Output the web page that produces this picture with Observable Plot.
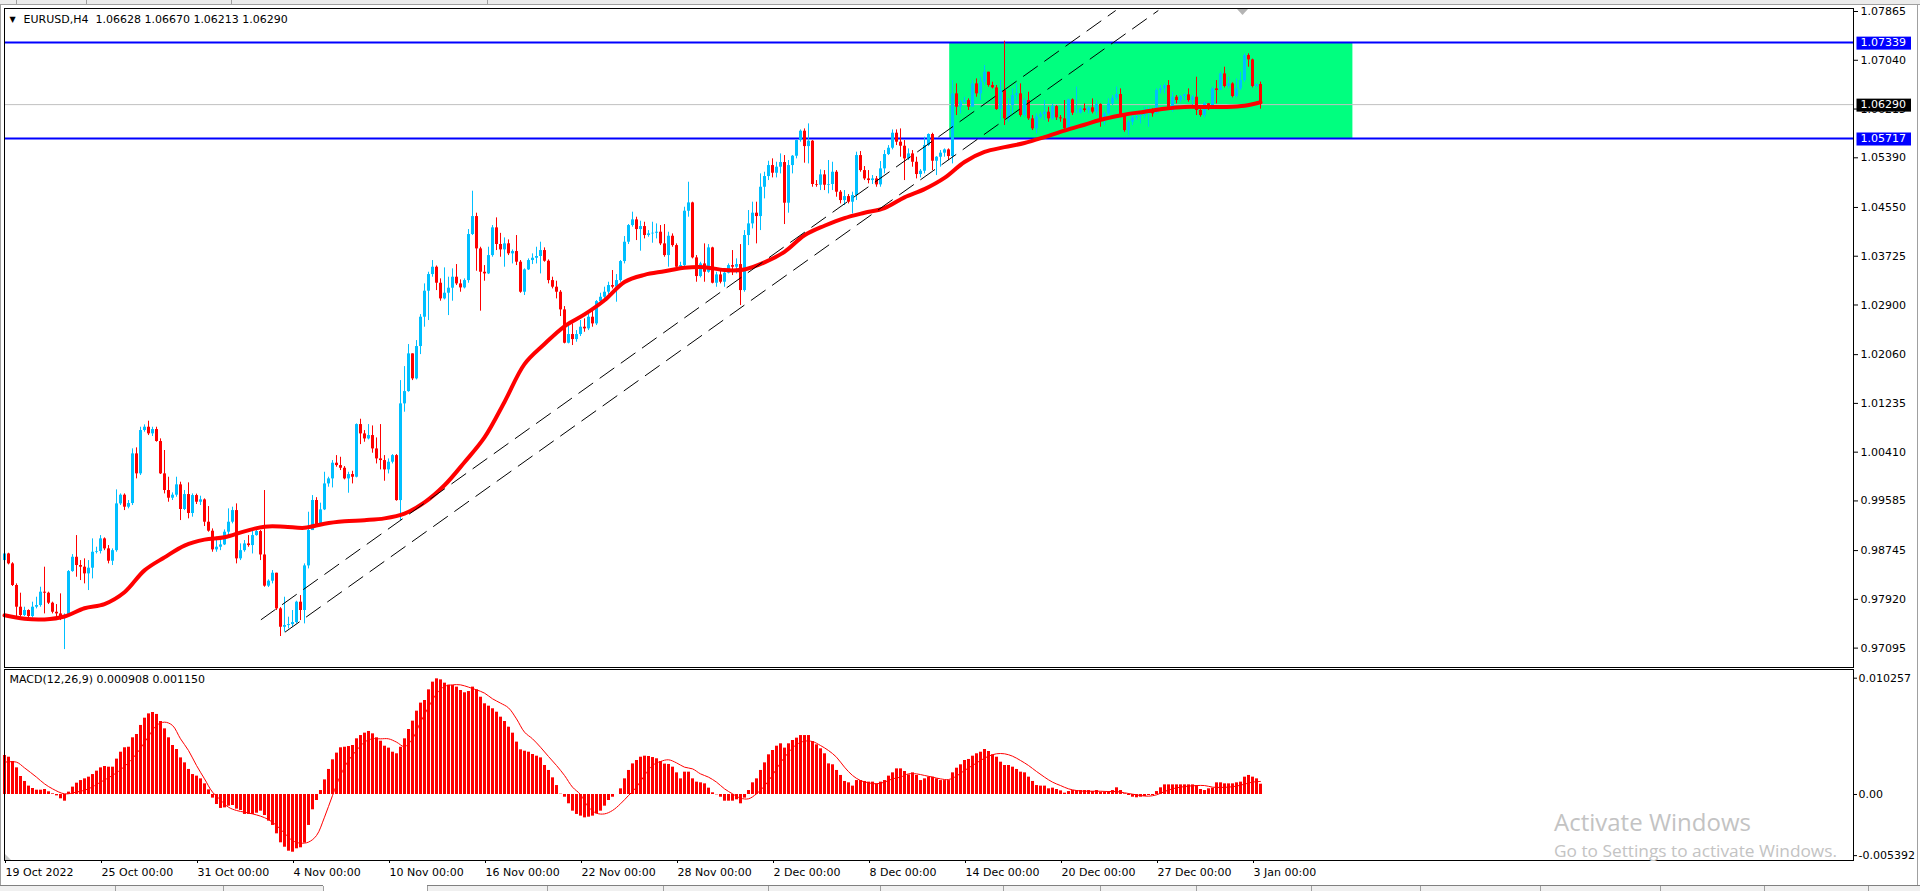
<!DOCTYPE html>
<html><head><meta charset="utf-8">
<script src="https://cdn.jsdelivr.net/npm/d3@7"></script>
<script src="https://cdn.jsdelivr.net/npm/@observablehq/plot@0.6"></script>
<style>
html,body{margin:0;padding:0;background:#fff;overflow:hidden;}
#wrap{position:relative;width:1920px;height:891px;overflow:hidden;background:#fff;}
#wrap svg{position:absolute;left:0;}
</style></head><body><div id="wrap"></div>
<script>
// ---------- DATA (EURUSD H4, 19 Oct 2022 00:00 ... 3 Jan 2023 08:00, bar index 0..314) ----------
const firstOpen = 0.98576;
const close = [
0.98688,0.98520,0.98154,0.97787,0.97646,0.97731,0.97629,0.97787,0.97815,0.98041,
0.98024,0.97855,0.97702,0.97674,0.97618,0.97646,0.98390,0.98632,0.98492,0.98464,
0.98351,0.98447,0.98717,0.98729,0.98943,0.98774,0.98565,0.98744,0.99535,0.99682,
0.99479,0.99541,1.00381,1.00043,1.00776,1.00832,1.00720,1.00793,1.00590,1.00043,
0.99761,0.99631,0.99682,0.99857,0.99440,0.99693,0.99372,0.99676,0.99563,0.99603,
0.99225,0.99073,0.98757,0.98802,0.98841,0.99056,0.99225,0.99422,0.98605,0.98744,
0.98858,0.98830,0.98999,0.99067,0.98671,0.98143,0.98227,0.98362,0.97759,0.97448,
0.97477,0.97493,0.97527,0.97872,0.97731,0.98486,0.99084,0.99592,0.99186,0.99434,
0.99873,0.99958,1.00223,1.00183,1.00138,0.99958,1.00031,0.99986,1.00877,1.00719,
1.00634,1.00691,1.00465,1.00296,1.00268,1.00110,1.00240,1.00352,0.99591,1.01227,
1.01435,1.02073,1.01650,1.02197,1.02693,1.03133,1.03415,1.03539,1.03268,1.03003,
1.03099,1.03184,1.03370,1.03257,1.03189,1.03313,1.04092,1.04396,1.03849,1.03454,
1.03426,1.03736,1.04205,1.03923,1.03832,1.03934,1.03765,1.03804,1.03624,1.03116,
1.03494,1.03652,1.03691,1.03720,1.03821,1.03640,1.03313,1.03201,1.03116,1.02817,
1.02253,1.02400,1.02315,1.02400,1.02524,1.02496,1.02693,1.02580,1.02958,1.03031,
1.03116,1.03229,1.03201,1.03313,1.03635,1.03962,1.04244,1.04340,1.04176,1.04227,
1.04075,1.04103,1.04114,1.04131,1.03934,1.03736,1.04063,1.03905,1.03539,1.03567,
1.04486,1.04627,1.03697,1.03381,1.03595,1.03454,1.03866,1.03268,1.03409,1.03285,
1.03437,1.03567,1.03539,1.03584,1.03144,1.04075,1.04272,1.04453,1.04396,1.04892,
1.05073,1.05259,1.05129,1.05231,1.05310,1.04622,1.05259,1.05417,1.05682,1.05840,
1.05580,1.05671,1.04938,1.04926,1.05101,1.04926,1.04938,1.05146,1.04808,1.04667,
1.04734,1.04639,1.04751,1.05428,1.05174,1.05033,1.05005,1.05033,1.04932,1.05203,
1.05445,1.05552,1.05806,1.05654,1.05586,1.05372,1.05456,1.05315,1.05107,1.05163,
1.05597,1.05784,1.05332,1.05400,1.05468,1.05524,1.05411,1.06472,1.06246,1.06331,
1.06359,1.06246,1.06641,1.06472,1.06669,1.06838,1.06613,1.06573,1.06207,1.06528,
1.06049,1.06274,1.06444,1.06472,1.06105,1.06359,1.06049,1.05880,1.06077,1.06120,
1.06162,1.06049,1.06257,1.06066,1.06049,1.05880,1.06370,1.06145,1.06145,1.06218,
1.06190,1.06235,1.06162,1.06291,1.06049,1.06133,1.06303,1.06398,1.06461,1.06105,
1.05851,1.05992,1.06066,1.06088,1.06105,1.06178,1.06190,1.06133,1.06528,1.06556,
1.06613,1.06201,1.06415,1.06359,1.06427,1.06455,1.06359,1.06415,1.06190,1.06105,
1.06303,1.06257,1.06556,1.06528,1.06810,1.06596,1.06641,1.06427,1.06556,1.06697,
1.07120,1.07047,1.06596,1.06630,1.06290];
const high = [
0.98744,0.98700,0.98540,0.98182,0.98024,0.97787,0.97742,0.97872,0.97956,0.98125,
0.98464,0.98041,0.97872,0.97832,0.98013,0.97674,0.98407,0.98677,0.98999,0.98576,
0.98605,0.98576,0.98943,0.98802,0.98999,0.98960,0.98830,0.98774,0.99772,0.99704,
0.99704,0.99592,1.00466,1.00483,1.00832,1.00872,1.00934,1.00832,1.00832,1.00635,
1.00438,0.99986,0.99721,0.99986,0.99902,0.99761,0.99891,0.99704,0.99700,0.99665,
0.99620,0.99490,0.99112,0.98971,0.98915,0.99095,0.99451,0.99479,0.99535,0.98858,
0.98915,0.98999,0.99084,0.99084,0.99084,0.99761,0.98249,0.98407,0.98362,0.97780,
0.97956,0.97618,0.97731,0.97888,0.97984,0.98520,0.99394,0.99676,0.99640,0.99547,
1.00070,0.99986,1.00268,1.00352,1.00324,1.00166,1.00070,1.00087,1.00888,1.00967,
1.00775,1.00877,1.00854,1.00651,1.00877,1.00352,1.00296,1.00369,1.00369,1.01621,
1.01858,1.02231,1.02073,1.02298,1.02738,1.03257,1.03454,1.03652,1.03560,1.03342,
1.03528,1.03370,1.03511,1.03584,1.03325,1.03342,1.04176,1.04825,1.04453,1.03877,
1.03567,1.03877,1.04244,1.04374,1.04112,1.04035,1.04001,1.03832,1.04075,1.03652,
1.03511,1.03680,1.03765,1.03877,1.03962,1.03866,1.03663,1.03370,1.03302,1.03144,
1.02873,1.02552,1.02580,1.02467,1.02637,1.02665,1.02749,1.02817,1.02975,1.03099,
1.03201,1.03285,1.03483,1.03415,1.03652,1.04058,1.04261,1.04470,1.04385,1.04317,
1.04300,1.04159,1.04300,1.04272,1.04244,1.04261,1.04131,1.04103,1.03934,1.03623,
1.04554,1.04977,1.04639,1.03736,1.03623,1.03934,1.03922,1.03877,1.03454,1.03482,
1.03511,1.03595,1.03821,1.03680,1.03922,1.04159,1.04498,1.04639,1.04639,1.05118,
1.05146,1.05332,1.05372,1.05315,1.05456,1.05428,1.05344,1.05428,1.05693,1.05862,
1.05879,1.05964,1.05682,1.05005,1.05186,1.05174,1.05344,1.05315,1.05174,1.04836,
1.04836,1.04768,1.04808,1.05485,1.05496,1.05242,1.05174,1.05090,1.05073,1.05327,
1.05513,1.05597,1.05862,1.05862,1.05879,1.05682,1.05541,1.05513,1.05400,1.05191,
1.05738,1.05795,1.05806,1.05411,1.05513,1.05541,1.05541,1.06697,1.06641,1.06359,
1.06415,1.06387,1.06697,1.06725,1.06754,1.06951,1.06838,1.06669,1.06613,1.06697,
1.07363,1.06387,1.06556,1.06641,1.06641,1.06387,1.06500,1.06105,1.06133,1.06162,
1.06359,1.06246,1.06303,1.06274,1.06105,1.06359,1.06382,1.06387,1.06585,1.06246,
1.06303,1.06257,1.06387,1.06359,1.06303,1.06162,1.06387,1.06444,1.06585,1.06556,
1.06133,1.06021,1.06105,1.06133,1.06162,1.06246,1.06246,1.06218,1.06556,1.06613,
1.06641,1.06697,1.06500,1.06444,1.06444,1.06472,1.06556,1.06444,1.06754,1.06274,
1.06331,1.06303,1.06585,1.06697,1.06838,1.06923,1.06754,1.06660,1.06725,1.06838,
1.07149,1.07149,1.07060,1.06641,1.06670];
const low = [
0.98531,0.98503,0.98137,0.97629,0.97618,0.97629,0.97606,0.97606,0.97759,0.97787,
0.97674,0.97832,0.97674,0.97561,0.97561,0.97070,0.97618,0.98378,0.98294,0.98238,
0.98182,0.98069,0.98266,0.98688,0.98688,0.98744,0.98520,0.98492,0.98717,0.99507,
0.99422,0.99451,0.99507,0.99958,1.00015,1.00748,1.00691,1.00675,1.00579,1.00032,
0.99704,0.99563,0.99592,0.99648,0.99253,0.99422,0.99282,0.99310,0.99524,0.99507,
0.99152,0.99056,0.98717,0.98717,0.98744,0.98830,0.98971,0.99197,0.98520,0.98576,
0.98717,0.98802,0.98688,0.98988,0.98576,0.98125,0.98120,0.98182,0.97731,0.97291,
0.97364,0.97420,0.97448,0.97505,0.97561,0.97505,0.98435,0.99084,0.99141,0.99169,
0.99422,0.99817,0.99805,1.00155,1.00099,0.99941,0.99715,0.99873,0.99975,1.00538,
1.00578,1.00617,1.00392,1.00211,1.00110,0.99918,1.00042,1.00211,0.99580,0.99253,
1.01086,1.01424,1.01621,1.01633,1.02061,1.02524,1.02637,1.03370,1.03144,1.02964,
1.02986,1.02721,1.02964,1.03229,1.03116,1.03172,1.03268,1.04075,1.03471,1.02795,
1.03302,1.03415,1.03708,1.03821,1.03708,1.03539,1.03736,1.03595,1.03567,1.03099,
1.03060,1.03483,1.03584,1.03595,1.03426,1.03624,1.03257,1.03172,1.03003,1.02704,
1.02242,1.02242,1.02214,1.02270,1.02366,1.02439,1.02467,1.02524,1.02552,1.02907,
1.02975,1.03077,1.03172,1.02947,1.03285,1.03595,1.03923,1.04216,1.03990,1.03810,
1.04018,1.04046,1.03945,1.04018,1.03905,1.03708,1.03539,1.03877,1.03511,1.03511,
1.03550,1.04385,1.03680,1.03285,1.03358,1.03285,1.03437,1.03257,1.03200,1.03257,
1.03200,1.03426,1.03398,1.03426,1.02890,1.03116,1.03905,1.04187,1.03934,1.04159,
1.04695,1.05005,1.05050,1.05050,1.05118,1.04261,1.04453,1.05118,1.05372,1.05654,
1.05299,1.05287,1.04892,1.04892,1.04836,1.04836,1.04780,1.04836,1.04723,1.04610,
1.04582,1.04610,1.04441,1.04667,1.05146,1.05005,1.04949,1.04938,1.04892,1.04892,
1.05118,1.05428,1.05524,1.05597,1.05400,1.05005,1.05344,1.05231,1.05033,1.05050,
1.05118,1.05580,1.05174,1.05090,1.05231,1.05400,1.05344,1.05287,1.06105,1.06133,
1.06303,1.06190,1.06303,1.06415,1.06359,1.06613,1.06585,1.06556,1.06190,1.06021,
1.05936,1.05992,1.06133,1.06359,1.06077,1.06077,1.06021,1.05851,1.05795,1.06049,
1.06021,1.05992,1.06021,1.06021,1.05992,1.05851,1.05863,1.06105,1.06133,1.06133,
1.06162,1.06133,1.06133,1.06105,1.05908,1.05936,1.06105,1.06274,1.06359,1.06088,
1.05823,1.05767,1.05936,1.06021,1.05964,1.06049,1.05908,1.06077,1.06133,1.06472,
1.06472,1.06190,1.06162,1.06303,1.06331,1.06359,1.06331,1.06246,1.06105,1.06077,
1.06066,1.06190,1.06218,1.06303,1.06528,1.06573,1.06556,1.06404,1.06404,1.06528,
1.06669,1.06923,1.06573,1.06573,1.06213];

// moving average (red, thick) read every 5 bars
const maBars = [0,5,10,15,20,25,30,35,40,45,50,55,60,65,70,75,80,85,90,95,100,105,110,115,120,125,130,135,140,145,150,155,160,165,170,175,180,185,190,195,200,205,210,215,220,225,230,235,240,245,250,255,260,265,270,275,280,285,290,295,300,305,310,314];
const maValues = [0.9765,0.9759,0.9758,0.9763,0.9777,0.9784,0.9804,0.9841,0.9863,0.9883,
0.9893,0.9897,0.9907,0.9915,0.9915,0.9913,0.9920,0.9924,0.9926,0.9929,
0.9937,0.9956,0.9985,1.0024,1.0066,1.0126,1.0190,1.0224,1.0254,1.0274,
1.0298,1.0329,1.0341,1.0347,1.0353,1.0354,1.0349,1.0350,1.0362,1.0380,
1.0408,1.0424,1.0437,1.0446,1.0454,1.0472,1.0486,1.0505,1.0532,1.0549,
1.0557,1.0564,1.0574,1.0585,1.0595,1.0605,1.0612,1.0617,1.0622,1.0625,
1.0625,1.0625,1.0627,1.0633];

// MACD(12,26,9) main values (histogram), one per bar
const macd = [
0.00344,0.00329,0.00291,0.00235,0.00159,0.00115,0.00074,0.00053,0.00038,0.00038,
0.00044,0.00024,0.00006,-0.00012,-0.00038,-0.00059,0.00021,0.00065,0.00100,0.00123,
0.00138,0.00153,0.00176,0.00206,0.00235,0.00247,0.00241,0.00241,0.00312,0.00373,
0.00412,0.00417,0.00500,0.00529,0.00609,0.00673,0.00711,0.00723,0.00706,0.00644,
0.00579,0.00500,0.00432,0.00397,0.00323,0.00279,0.00221,0.00176,0.00162,0.00138,
0.00094,0.00041,-0.00032,-0.00088,-0.00123,-0.00118,-0.00103,-0.00097,-0.00129,-0.00141,
-0.00176,-0.00176,-0.00176,-0.00165,-0.00147,-0.00185,-0.00235,-0.00273,-0.00347,-0.00426,
-0.00465,-0.00500,-0.00509,-0.00479,-0.00470,-0.00429,-0.00273,-0.00135,-0.00053,0.00035,
0.00129,0.00221,0.00306,0.00365,0.00412,0.00417,0.00423,0.00432,0.00491,0.00520,
0.00541,0.00556,0.00535,0.00500,0.00470,0.00426,0.00409,0.00373,0.00359,0.00417,
0.00491,0.00573,0.00647,0.00735,0.00806,0.00829,0.00923,0.00991,0.01020,0.01011,
0.00982,0.00964,0.00961,0.00947,0.00917,0.00897,0.00908,0.00947,0.00923,0.00858,
0.00800,0.00779,0.00756,0.00726,0.00682,0.00644,0.00594,0.00541,0.00462,0.00394,
0.00382,0.00373,0.00353,0.00338,0.00323,0.00256,0.00212,0.00147,0.00079,0.00003,
-0.00024,-0.00082,-0.00147,-0.00176,-0.00191,-0.00206,-0.00200,-0.00191,-0.00171,-0.00147,
-0.00103,-0.00053,-0.00024,0.00000,0.00050,0.00138,0.00212,0.00270,0.00300,0.00329,
0.00338,0.00335,0.00326,0.00315,0.00291,0.00268,0.00265,0.00241,0.00191,0.00138,
0.00197,0.00197,0.00138,0.00109,0.00103,0.00094,0.00056,0.00015,-0.00003,-0.00024,
-0.00059,-0.00059,-0.00059,-0.00047,-0.00082,-0.00032,0.00035,0.00103,0.00138,0.00212,
0.00279,0.00350,0.00388,0.00426,0.00447,0.00409,0.00447,0.00476,0.00497,0.00520,
0.00520,0.00520,0.00467,0.00438,0.00403,0.00359,0.00270,0.00262,0.00212,0.00168,
0.00115,0.00103,0.00074,0.00123,0.00123,0.00115,0.00109,0.00109,0.00094,0.00109,
0.00123,0.00162,0.00191,0.00226,0.00226,0.00203,0.00173,0.00191,0.00168,0.00123,
0.00138,0.00153,0.00153,0.00138,0.00123,0.00123,0.00123,0.00191,0.00232,0.00262,
0.00300,0.00309,0.00338,0.00359,0.00373,0.00397,0.00379,0.00350,0.00329,0.00285,
0.00256,0.00256,0.00241,0.00221,0.00197,0.00191,0.00153,0.00115,0.00079,0.00074,
0.00074,0.00050,0.00056,0.00044,0.00032,0.00012,0.00026,0.00035,0.00035,0.00035,
0.00035,0.00035,0.00026,0.00035,0.00021,0.00021,0.00026,0.00035,0.00059,0.00035,
0.00006,-0.00009,-0.00024,-0.00029,-0.00024,-0.00018,-0.00009,-0.00009,0.00026,0.00059,
0.00085,0.00085,0.00085,0.00085,0.00085,0.00085,0.00085,0.00085,0.00079,0.00044,
0.00035,0.00050,0.00056,0.00103,0.00103,0.00094,0.00094,0.00094,0.00103,0.00109,
0.00153,0.00168,0.00153,0.00138,0.000908];

// MACD signal line read at sampled bars
const signalBars = [0,3,5,8,10,12,15,18,21,24,27,30,33,36,38,40,42,44,46,48,50,52,54,56,58,60,62,64,66,68,70,72,74,76,78,80,82,84,86,88,90,92,94,96,98,100,102,104,106,108,110,112,114,116,118,120,122,124,126,128,130,132,134,136,138,140,142,144,146,148,150,152,154,156,158,
160,162,164,166,168,170,172,174,176,178,180,182,184,186,188,190,192,194,196,198,200,202,204,206,208,210,212,214,216,218,220,222,224,226,228,230,232,234,236,238,240,242,244,246,248,250,252,254,256,258,260,262,264,266,268,270,272,274,276,278,280,282,284,286,288,290,292,294,296,298,300,302,304,306,308,310,312,314];
const signalValues = [0.00285,0.00285,0.00235,0.00153,0.00094,0.00050,0.00006,0.00021,0.00050,0.00109,0.00168,0.00247,0.00359,0.00512,0.00609,0.00638,0.00609,0.00491,0.00388,0.00256,0.00138,0.00021,-0.00047,-0.00112,-0.00141,-0.00156,-0.00171,-0.00191,-0.00221,-0.00273,-0.00341,-0.00406,-0.00429,-0.00420,-0.00362,-0.00200,-0.00009,0.00168,0.00300,0.00388,0.00462,0.00491,0.00491,0.00491,0.00462,0.00423,0.00491,0.00638,0.00770,0.00888,0.00953,0.00967,0.00967,0.00947,0.00923,0.00894,0.00844,0.00806,0.00764,0.00667,0.00550,0.00491,0.00417,0.00335,0.00256,0.00168,0.00065,0.00000,-0.00112,-0.00165,-0.00171,-0.00141,-0.00082,-0.00009,0.00065,
0.00168,0.00256,0.00291,0.00306,0.00279,0.00241,0.00226,0.00182,0.00153,0.00109,0.00050,0.00006,-0.00032,-0.00038,0.00006,0.00075,0.00170,0.00280,0.00370,0.00440,0.00470,0.00467,0.00432,0.00388,0.00329,0.00241,0.00168,0.00123,0.00103,0.00094,0.00109,0.00138,0.00153,0.00182,0.00182,0.00168,0.00153,0.00138,0.00132,0.00162,0.00212,0.00256,0.00300,0.00338,0.00359,0.00359,0.00338,0.00300,0.00256,0.00203,0.00153,0.00109,0.00079,0.00050,0.00035,0.00029,0.00029,0.00029,0.00026,0.00026,0.00015,0.00003,-0.00009,-0.00015,-0.00003,0.00026,0.00050,0.00065,0.00074,0.00079,0.00079,0.00065,0.00062,0.00065,0.00074,0.00091,0.00109,0.00115];

// horizontal levels, bid, drawn objects
const levels = [1.07339, 1.05717];
const bid = 1.06290;
const zone = [{fromBar: 236.3, toBar: 337.1, low: 1.05717, high: 1.07339}];
const trendlines = [
  {bar1: 64.1, p1: 0.97574, bar2: 277.8, p2: 1.07882},
  {bar1: 70.1, p1: 0.97364, bar2: 288.45, p2: 1.07882}
];

// tick labels
const priceTicks = [1.07865,1.07040,1.06215,1.05390,1.04550,1.03725,1.02900,1.02060,1.01235,1.00410,0.99585,0.98745,0.97920,0.97095];
const macdTicks = [0.010257, 0, -0.005392];
const macdTickLabels = ["0.010257", "0.00", "-0.005392"];
const timeTickBars = [0,24,48,72,96,120,144,168,192,216,240,264,288,312];
const timeTickLabels = ["19 Oct 2022","25 Oct 00:00","31 Oct 00:00","4 Nov 00:00","10 Nov 00:00","16 Nov 00:00","22 Nov 00:00","28 Nov 00:00","2 Dec 00:00","8 Dec 00:00","14 Dec 00:00","20 Dec 00:00","27 Dec 00:00","3 Jan 00:00"];
const titleText = "EURUSD,H4\u00a0 1.06628 1.06670 1.06213 1.06290";
const macdTitle = "MACD(12,26,9) 0.000908 0.001150";

// ---------- BUILD ----------
const bars = close.map((c, i) => ({i, open: i === 0 ? firstOpen : close[i - 1], close: c, high: high[i], low: low[i]}));
const maRows = maBars.map((b, k) => ({i: b, v: maValues[k]}));
const macdRows = macd.map((v, i) => ({i, v}));
const sigRows = signalBars.map((b, k) => ({i: b, v: signalValues[k]}));
const bull = "#00bfff", bear = "#ff0000";
const cc = d => (d.close >= d.open ? bull : bear);
const xDomain = [0, 462.25];
const font = {fontFamily: "DejaVu Sans", fontSize: "11px", background: "transparent", color: "#000", overflow: "visible"};
const tagRows = [
  {price: levels[0], fill: "#0000ff"},
  {price: bid, fill: "#000000"},
  {price: levels[1], fill: "#0000ff"}
];

const main = Plot.plot({
  width: 1920, height: 668, marginTop: 8, marginBottom: 1, marginLeft: 4, marginRight: 67,
  style: font,
  x: {domain: xDomain, axis: null, label: null},
  y: {domain: [0.96767, 1.07916], label: null},
  color: {type: "identity"},
  marks: [
    Plot.rect(zone, {x1: "fromBar", x2: "toBar", y1: "low", y2: "high", fill: "#00ff7f"}),
    Plot.ruleY([bid], {stroke: "#c0c0c0", strokeWidth: 1}),
    Plot.ruleY(levels, {stroke: "#0000ff", strokeWidth: 2}),
    Plot.ruleX(bars, {x: "i", y1: "low", y2: "high", stroke: cc, strokeWidth: 1}),
    Plot.ruleX(bars, {x: "i", y1: "open", y2: "close", stroke: cc, strokeWidth: 3}),
    Plot.line(maRows, {x: "i", y: "v", stroke: "#ff0000", strokeWidth: 4, curve: "catmull-rom"}),
    Plot.link(trendlines, {x1: "bar1", y1: "p1", x2: "bar2", y2: "p2", stroke: "#000", strokeWidth: 1, strokeDasharray: "18,8"}),
    Plot.frame({stroke: "#000"}),
    Plot.axisY({anchor: "right", ticks: priceTicks, tickFormat: d => d.toFixed(5), tickSize: 4, tickPadding: 3, label: null}),
    Plot.text(tagRows, {y: "price", text: d => d.price.toFixed(5), frameAnchor: "right", dx: 7, textAnchor: "start", fill: "#ffffff"}),
    Plot.text([titleText], {text: d => d, frameAnchor: "top-left", dx: 19, dy: 11, textAnchor: "start", lineAnchor: "middle", fill: "#000"}),
    Plot.text(["\u25BC"], {text: d => d, frameAnchor: "top-left", dx: 5, dy: 11, textAnchor: "start", lineAnchor: "middle", fontSize: 8, fill: "#000"})
  ]
});

const sub = Plot.plot({
  width: 1920, height: 223, marginTop: 1, marginBottom: 31, marginLeft: 4, marginRight: 67,
  style: font,
  x: {domain: xDomain, label: null},
  y: {domain: [-0.005821, 0.011024], label: null},
  marks: [
    Plot.ruleX(macdRows, {x: "i", y1: 0, y2: "v", stroke: "#ff0000", strokeWidth: 3}),
    Plot.line(sigRows, {x: "i", y: "v", stroke: "#ff0000", strokeWidth: 1, curve: "catmull-rom"}),
    Plot.frame({stroke: "#000"}),
    Plot.axisY({anchor: "right", ticks: macdTicks, tickFormat: d => macdTickLabels[macdTicks.indexOf(d)], tickSize: 3, tickPadding: 2, label: null}),
    Plot.axisX({anchor: "bottom", ticks: timeTickBars, tickFormat: d => timeTickLabels[timeTickBars.indexOf(d)], tickSize: 3, tickPadding: 5, textAnchor: "start", dx: 1, label: null}),
    Plot.text([macdTitle], {text: d => d, frameAnchor: "top-left", dx: 5, dy: 10, textAnchor: "start", lineAnchor: "middle", fill: "#000"})
  ]
});

const wrap = document.getElementById("wrap");
main.style.top = "0px";
sub.style.top = "668px";
wrap.appendChild(main);
wrap.appendChild(sub);

// coloured boxes behind the price tags (matched by their text)
const tagFill = new Map(tagRows.map(d => [d.price.toFixed(5), d.fill]));
main.querySelectorAll("text").forEach(t => {
  const fill = tagFill.get(t.textContent.trim());
  if (!fill) return;
  let b;
  try { b = t.getBBox(); } catch (e) { return; }
  const r = document.createElementNS("http://www.w3.org/2000/svg", "rect");
  r.setAttribute("x", b.x - 4);
  r.setAttribute("y", b.y + 0.5);
  r.setAttribute("width", b.width + 9);
  r.setAttribute("height", Math.max(13, b.height));
  r.setAttribute("fill", fill);
  const tr = t.getAttribute("transform");
  if (tr) r.setAttribute("transform", tr);
  t.parentNode.insertBefore(r, t);
});

// terminal window chrome + watermark
const ov = d3.select(wrap).append("svg").attr("width", 1920).attr("height", 891).style("top", "0px").style("pointer-events", "none");
ov.append("rect").attr("x", 0).attr("y", 0).attr("width", 1920).attr("height", 4).attr("fill", "#ececec");
ov.append("line").attr("x1", 0).attr("x2", 1920).attr("y1", 4.5).attr("y2", 4.5).attr("stroke", "#a0a0a0");
[16, 86, 231, 487].forEach(x => ov.append("line").attr("x1", x + .5).attr("x2", x + .5).attr("y1", 0).attr("y2", 4).attr("stroke", "#a0a0a0"));
ov.append("line").attr("x1", .5).attr("x2", .5).attr("y1", 5).attr("y2", 886).attr("stroke", "#a0a0a0");
ov.append("line").attr("x1", 1917.5).attr("x2", 1917.5).attr("y1", 5).attr("y2", 886).attr("stroke", "#a0a0a0");
ov.append("rect").attr("x", 0).attr("y", 886).attr("width", 1920).attr("height", 5).attr("fill", "#f0f0f0");
ov.append("rect").attr("x", 323).attr("y", 885).attr("width", 104).attr("height", 6).attr("fill", "#ffffff");
ov.append("line").attr("x1", 0).attr("x2", 323).attr("y1", 885.5).attr("y2", 885.5).attr("stroke", "#808080");
ov.append("line").attr("x1", 427).attr("x2", 1920).attr("y1", 885.5).attr("y2", 885.5).attr("stroke", "#808080");
[115, 223, 323, 427, 547, 663, 768, 880, 1003, 1100, 1196, 1311, 1420, 1540, 1660, 1764, 1868].forEach(x =>
  ov.append("line").attr("x1", x + .5).attr("x2", x + .5).attr("y1", 886).attr("y2", 891).attr("stroke", "#a0a0a0"));
ov.append("path").attr("d", "M1237,9 L1248,9 L1242.5,15 Z").attr("fill", "#b4b4b4");
ov.append("path").attr("d", "M5,854 L5,860 L11,860 Z").attr("fill", "#c8c8c8");
ov.append("text").attr("x", 1554).attr("y", 831).attr("font-family", "Open Sans").attr("font-size", 24)
  .attr("fill", "#c3c3c3").attr("textLength", 197).attr("lengthAdjust", "spacingAndGlyphs").text("Activate Windows");
ov.append("text").attr("x", 1554).attr("y", 857).attr("font-family", "Open Sans").attr("font-size", 16)
  .attr("fill", "#c3c3c3").attr("textLength", 283).attr("lengthAdjust", "spacingAndGlyphs").text("Go to Settings to activate Windows.");
</script></body></html>
